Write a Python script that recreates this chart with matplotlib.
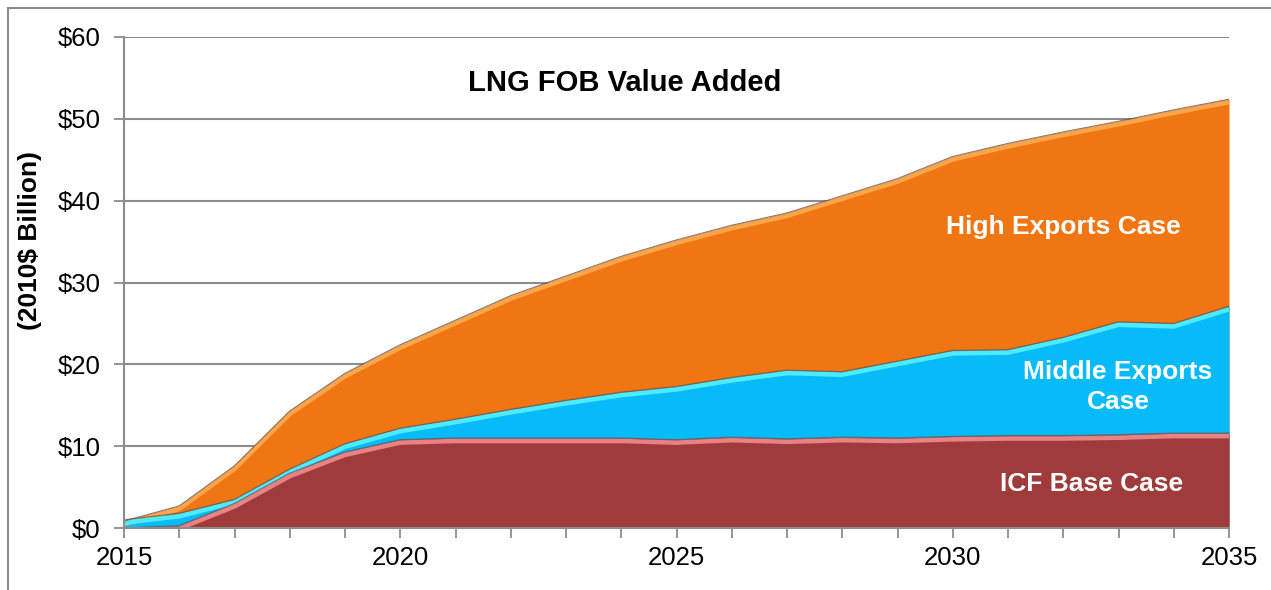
import numpy as np
import matplotlib
matplotlib.use('Agg')
import matplotlib.pyplot as plt
import matplotlib.transforms as mtransforms
from matplotlib.lines import Line2D

# Values ($ billion, 2010 dollars)
years = list(range(2015, 2036))
high_exports = [0.85, 2.7, 7.6, 14.3, 18.9, 22.4, 25.4, 28.4, 30.8, 33.2, 35.2,
                37.0, 38.5, 40.6, 42.7, 45.4, 47.0, 48.4, 49.7, 51.1, 52.4]
middle_exports = [1.0, 1.8, 3.5, 7.2, 10.3, 12.2, 13.3, 14.5, 15.6, 16.6, 17.3,
                  18.4, 19.3, 19.1, 20.4, 21.7, 21.8, 23.3, 25.2, 25.0, 27.1]
base_case = [0.0, 0.3, 3.0, 6.7, 9.3, 10.8, 11.0, 11.0, 11.0, 11.0, 10.8,
             11.1, 10.9, 11.1, 11.0, 11.2, 11.3, 11.3, 11.4, 11.6, 11.6]

y_ticks = [0, 10, 20, 30, 40, 50, 60]
y_tick_labels = ['$0', '$10', '$20', '$30', '$40', '$50', '$60']
x_tick_labels = [2015, 2020, 2025, 2030, 2035]

plt.rcParams['font.family'] = ['Liberation Sans', 'DejaVu Sans']

fig = plt.figure(figsize=(12.71, 5.90), dpi=100)
ax = fig.add_axes([124 / 1271, 62 / 590, (1229 - 124) / 1271, (528 - 37) / 590])

# Overlapping areas: fill, inner highlight along the top edge, dark outline
series = [
    (high_exports, '#F07513', '#FBA54A'),
    (middle_exports, '#07BBF9', '#4DEBFF'),
    (base_case, '#9F3C3B', '#E88283'),
]
shift = mtransforms.ScaledTranslation(0, -2.2 / 72, fig.dpi_scale_trans)
for values, fill_color, light_color in series:
    ax.fill_between(years, 0, values, color=fill_color, lw=0, zorder=2)
    ax.plot(years, values, color=light_color, lw=3.2, zorder=3,
            solid_capstyle='butt', transform=ax.transData + shift)
    ax.plot(years, values, color='#6b5550', lw=0.8, zorder=4, alpha=0.8)

ax.set_xlim(2015, 2035)
ax.set_ylim(0, 60)
ax.set_yticks(y_ticks)
ax.set_yticklabels(y_tick_labels)
ax.set_xticks(x_tick_labels)
ax.set_xticklabels([str(y) for y in x_tick_labels])
ax.set_xticks(years, minor=True)

ax.grid(axis='y', color='#8c8c8c', lw=1.5, zorder=1)
ax.set_axisbelow(True)
for side in ['top', 'right']:
    ax.spines[side].set_visible(False)
for side in ['left', 'bottom']:
    ax.spines[side].set_color('#8c8c8c')
    ax.spines[side].set_linewidth(1.5)
    ax.spines[side].set_zorder(5)

ax.tick_params(axis='y', which='major', length=7, width=1.3, color='#8c8c8c',
               labelsize=18.5, pad=10)
ax.tick_params(axis='x', which='both', length=7, width=1.3, color='#8c8c8c',
               labelsize=18.5, pad=6)

ax.set_ylabel('(2010$ Billion)', fontsize=19, fontweight='bold')
ax.yaxis.set_label_coords(-0.074, 0.585)

ax.text(2024.07, 54.4, 'LNG FOB Value Added', fontsize=21, fontweight='bold',
        ha='center', va='center', color='black')
ax.text(2032.01, 36.8, 'High Exports Case', fontsize=19, fontweight='bold',
        ha='center', va='center', color='white', zorder=6)
ax.text(2032.99, 17.2, 'Middle Exports\nCase', fontsize=19, fontweight='bold',
        ha='center', va='center', color='white', linespacing=1.3, zorder=6)
ax.text(2032.52, 5.4, 'ICF Base Case', fontsize=19, fontweight='bold',
        ha='center', va='center', color='white', zorder=6)

# Outer frame (left and top edges visible in the reference)
fx = 7.5 / 1271
fy = 1 - 7.5 / 590
fig.add_artist(Line2D([fx, fx], [0, fy], transform=fig.transFigure,
                      color='#8c8c8c', lw=1.5))
fig.add_artist(Line2D([fx, 1], [fy, fy], transform=fig.transFigure,
                      color='#8c8c8c', lw=1.5))

fig.savefig('out.png', dpi=100)
